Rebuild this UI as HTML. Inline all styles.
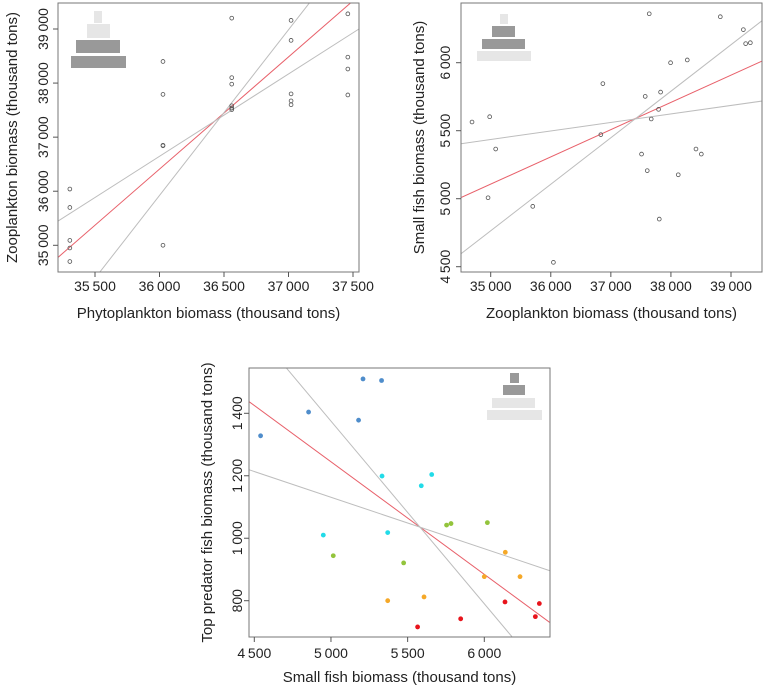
<!DOCTYPE html>
<html><head><meta charset="utf-8"><style>
html,body{margin:0;padding:0;background:#fff;}
svg{display:block;font-family:"Liberation Sans",Arial,sans-serif;}
</style></head><body>
<svg id="c" width="765" height="688" viewBox="0 0 765 688"></svg>
<script>
// ---- Panel 1 data: phytoplankton vs zooplankton ----
const p1X = [35305,35305,35305,35305,35305,36027,36027,36027,36027,36027,36560,36560,36560,36560,36560,36560,37020,37020,37020,37020,37020,37460,37460,37460,37460];
const p1Y = [36040,35700,35090,34950,34700,38400,37790,36850,36840,35000,39200,38100,37980,37580,37540,37510,39160,38790,37800,37670,37600,39280,38480,38260,37780];
const p1XTicks = [35500,36000,36500,37000,37500];
const p1YTicks = [35000,36000,37000,38000,39000];
const p1Lines = [[35215,34780,37490,39500],[35539,34510,37168,39500],[35215,35450,37546,39000]];
// ---- Panel 2 data: zooplankton vs small fish ----
const p2X = [34689,34983,35083,34956,35700,36044,36867,36833,37572,37828,37794,37672,37511,37606,37806,37639,37994,38272,38122,38417,38506,38822,39206,39244,39322];
const p2Y = [5564,5603,5365,5007,4944,4532,5846,5471,5752,5784,5657,5586,5328,5206,4850,6360,6000,6020,5176,5365,5328,6338,6243,6140,6147];
const p2XTicks = [35000,36000,37000,38000,39000];
const p2YTicks = [4500,5000,5500,6000];
const p2Lines = [[34500,5007,39517,6012],[34500,4593,39517,6309],[34500,5404,39517,5718]];
// ---- Panel 3 data: small fish vs top predator ----
const p3X = [4541,4854,5180,5209,5330, 5333,4950,5370,5589,5657, 5015,5474,5754,5783,6020, 5370,5607,6000,6137,6233, 5565,5846,6135,6333,6359];
const p3Y = [1328,1404,1378,1510,1505, 1199,1010,1018,1168,1204, 944,921,1042,1047,1050, 800,812,877,955,877, 716,742,796,749,791];
const p3Group = [0,0,0,0,0,1,1,1,1,1,2,2,2,2,2,3,3,3,3,3,4,4,4,4,4];
const p3XTicks = [4500,5000,5500,6000];
const p3YTicks = [800,1000,1200,1400];
const p3Lines = [[4467,1437,6428,730],[4711,1544,6180,685],[4467,1219,6428,896]];
const groupColors = ["#4f8dcb","#22dbe8","#93c43c","#f5a828","#e8141c"];

const NS="http://www.w3.org/2000/svg";
const svg=document.getElementById('c');
function el(tag,attrs,parent){const e=document.createElementNS(NS,tag);for(const k in attrs)e.setAttribute(k,attrs[k]);(parent||svg).appendChild(e);return e;}
function fmt(v){const s=String(v);return s.length>3?s.slice(0,s.length-3)+"\u2009"+s.slice(-3):s;}

function panel(cfg){
  const g=el('g',{});
  
  
  const sx=v=>cfg.xa[1]+(v-cfg.xa[0])*(cfg.xb[1]-cfg.xa[1])/(cfg.xb[0]-cfg.xa[0]);
  const sy=v=>cfg.ya[1]+(v-cfg.ya[0])*(cfg.yb[1]-cfg.ya[1])/(cfg.yb[0]-cfg.ya[0]);
  const [L,T,R,B]=cfg.box;
  const clipId='clip'+cfg.name;
  const cp=el('clipPath',{id:clipId},g);el('rect',{x:L,y:T,width:R-L,height:B-T},cp);
  cfg.pyr.forEach((p,i)=>{const r=el('rect',{x:p[0],y:p[1],width:p[2]-p[0],height:p[3]-p[1],fill:p[4]?'#999999':'#e6e6e6'},g);
    });
  const lg=el('g',{'clip-path':'url(#'+clipId+')'},g);
  cfg.lines.forEach((l,i)=>{const ln=el('line',{x1:sx(l[0]),y1:sy(l[1]),x2:sx(l[2]),y2:sy(l[3]),stroke:i===0?'#e8606a':'#bdbdbd','stroke-width':1},lg);
    });
  cfg.xs.forEach((x,i)=>{let c;
    if(cfg.groups){c=el('circle',{cx:sx(x),cy:sy(cfg.ys[i]),r:2.4,fill:groupColors[cfg.groups[i]]},g);}
    else{c=el('circle',{cx:sx(x),cy:sy(cfg.ys[i]),r:1.9,fill:'none',stroke:'#555','stroke-width':0.8},g);}
    });
  const bx=el('rect',{x:L,y:T,width:R-L,height:B-T,fill:'none',stroke:'#777','stroke-width':1},g);
  
  cfg.xt.forEach(v=>{const x=sx(v);el('line',{x1:x,y1:B,x2:x,y2:B+5,stroke:'#555'},g);
    const t=el('text',{x:x,y:cfg.xtY,'text-anchor':'middle','font-size':14,fill:'#222'},g);t.textContent=fmt(v);
    });
  cfg.yt.forEach(v=>{const y=sy(v);el('line',{x1:L-5,y1:y,x2:L,y2:y,stroke:'#555'},g);
    const t=el('text',{x:cfg.ytX,y:y,'text-anchor':'middle','font-size':14,fill:'#222',transform:'rotate(-90 '+cfg.ytX+' '+y+')'},g);t.textContent=fmt(v);
    });
  const xt=el('text',{x:(L+R)/2,y:cfg.xtitleY,'text-anchor':'middle','font-size':15,fill:'#222'},g);xt.textContent=cfg.xtitle;
  
  const cy=(T+B)/2;
  const yt=el('text',{x:cfg.ytitleX,y:cy,'text-anchor':'middle','font-size':15,fill:'#222',transform:'rotate(-90 '+cfg.ytitleX+' '+cy+')'},g);yt.textContent=cfg.ytitle;
  
}

panel({name:'phyto-zoo-panel',box:[58,3,359,272],xa:[35500,95],xb:[37500,353],ya:[39000,29],yb:[35000,245.3],
 xs:p1X,ys:p1Y,lines:p1Lines,xt:p1XTicks,yt:p1YTicks,xtY:291,ytX:48,xtitleY:318,ytitleX:17,
 xtitle:'Phytoplankton biomass (thousand tons)',ytitle:'Zooplankton biomass (thousand tons)',
 pyr:[[94,11,102,23,0],[87,24,110,38,0],[76,40,120,53,1],[71,56,126,68,1]]});
panel({name:'zoo-smallfish-panel',box:[461,3,762,272],xa:[35000,490.7],xb:[39000,731],ya:[6000,62.7],yb:[4500,266.7],
 xs:p2X,ys:p2Y,lines:p2Lines,xt:p2XTicks,yt:p2YTicks,xtY:291,ytX:450,xtitleY:318,ytitleX:424,
 xtitle:'Zooplankton biomass (thousand tons)',ytitle:'Small fish biomass (thousand tons)',
 pyr:[[500,14,508,24,0],[492,26,515,37,1],[482,39,525,49,1],[477,51,531,61,0]]});
panel({name:'smallfish-predator-panel',box:[249,368,550,637],xa:[4500,254.3],xb:[6000,484.3],ya:[1400,413.3],yb:[800,600.7],
 xs:p3X,ys:p3Y,groups:p3Group,lines:p3Lines,xt:p3XTicks,yt:p3YTicks,xtY:658,ytX:242,xtitleY:682,ytitleX:212,
 xtitle:'Small fish biomass (thousand tons)',ytitle:'Top predator fish biomass (thousand tons)',
 pyr:[[510,373,519,383,1],[503,385,525,395,1],[492,398,535,408,0],[487,410,542,420,0]]});
</script>
</body></html>
